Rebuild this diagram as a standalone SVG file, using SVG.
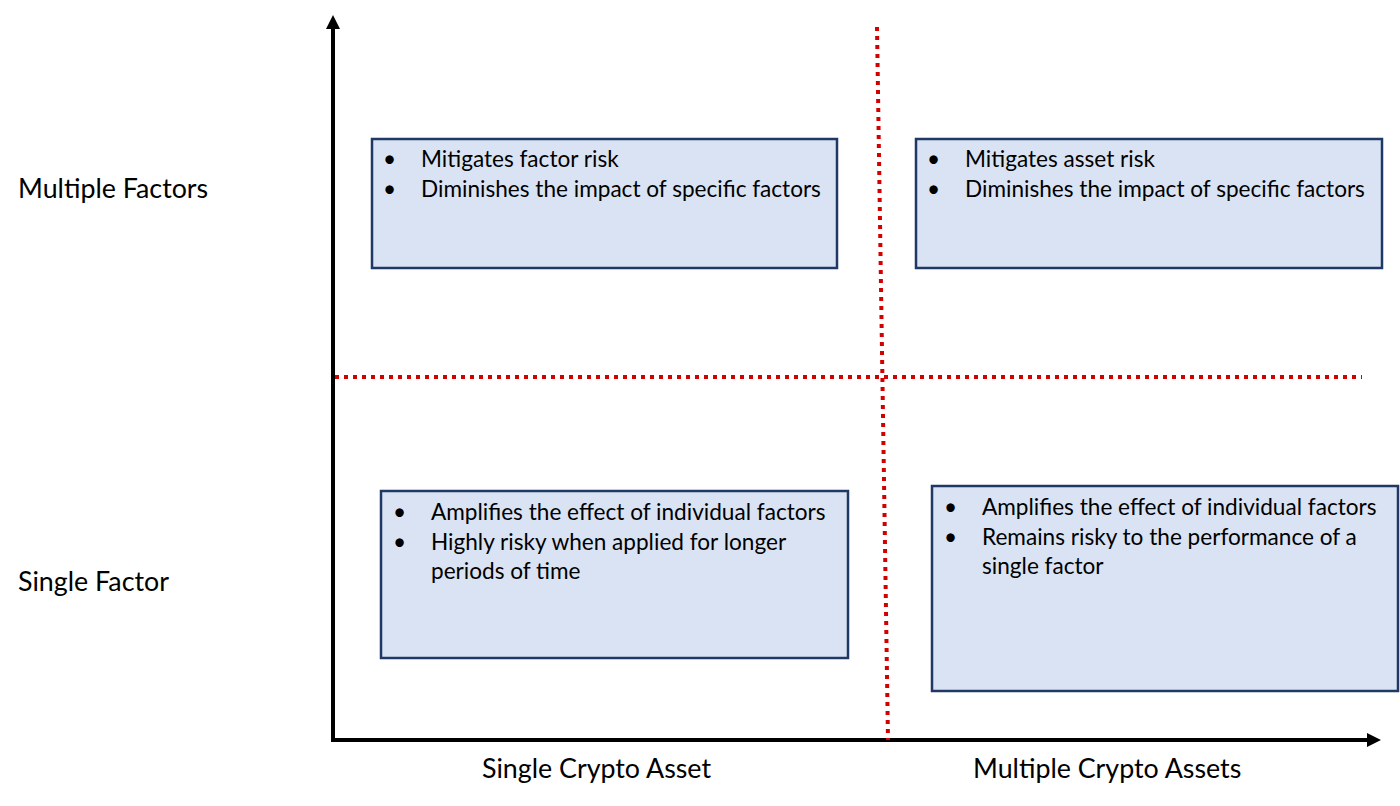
<svg xmlns="http://www.w3.org/2000/svg" width="1400" height="806" viewBox="0 0 1400 806">
<style>
text{font-family:Lato,"Open Sans","Liberation Sans",sans-serif;fill:#000}
.lbl{font-size:26.8px}
.t{font-size:22.6px}
.box{fill:#dae3f3;stroke:#1f3864;stroke-width:2.5}
.axis{stroke:#000;stroke-width:4;fill:none}
.dot{stroke:#d40000;stroke-width:4;stroke-dasharray:4 5;fill:none}
</style>
<defs>
<marker id="ah" markerWidth="14" markerHeight="14" refX="0" refY="7" orient="auto" markerUnits="userSpaceOnUse">
<path d="M0,0 L14,7 L0,14 Z" fill="#000"/>
</marker>
</defs>
<rect width="1400" height="806" fill="#fff"/>
<g id="connectors">
<line class="axis" x1="333" y1="742" x2="333" y2="29" marker-end="url(#ah)"/>
<line class="axis" x1="331" y1="740" x2="1367" y2="740" marker-end="url(#ah)"/>
<line class="dot" x1="877" y1="27" x2="888" y2="740"/>
<line class="dot" x1="335" y1="377" x2="1362" y2="377"/>
</g>
<g id="axis-labels">
<text class="lbl" x="18" y="198">Multiple Factors</text>
<text class="lbl" x="18" y="591">Single Factor</text>
<text class="lbl" x="482" y="778">Single Crypto Asset</text>
<text class="lbl" x="973" y="778">Multiple Crypto Assets</text>
</g>
<g id="box-tl">
<rect class="box" x="372" y="139" width="465" height="129"/>
<text class="t" x="383" y="167">•</text><text class="t" x="421" y="167">Mitigates factor risk</text>
<text class="t" x="383" y="197">•</text><text class="t" x="421" y="197">Diminishes the impact of specific factors</text>
</g>
<g id="box-tr">
<rect class="box" x="916" y="139" width="466" height="129"/>
<text class="t" x="927" y="167">•</text><text class="t" x="965" y="167">Mitigates asset risk</text>
<text class="t" x="927" y="197">•</text><text class="t" x="965" y="197">Diminishes the impact of specific factors</text>
</g>
<g id="box-bl">
<rect class="box" x="381" y="491" width="467" height="167"/>
<text class="t" x="393" y="520">•</text><text class="t" x="431" y="520">Amplifies the effect of individual factors</text>
<text class="t" x="393" y="550">•</text><text class="t" x="431" y="550">Highly risky when applied for longer</text>
<text class="t" x="431" y="579">periods of time</text>
</g>
<g id="box-br">
<rect class="box" x="932" y="486" width="466" height="205"/>
<text class="t" x="944" y="515">•</text><text class="t" x="982" y="515">Amplifies the effect of individual factors</text>
<text class="t" x="944" y="545">•</text><text class="t" x="982" y="545">Remains risky to the performance of a</text>
<text class="t" x="982" y="574">single factor</text>
</g>
</svg>
